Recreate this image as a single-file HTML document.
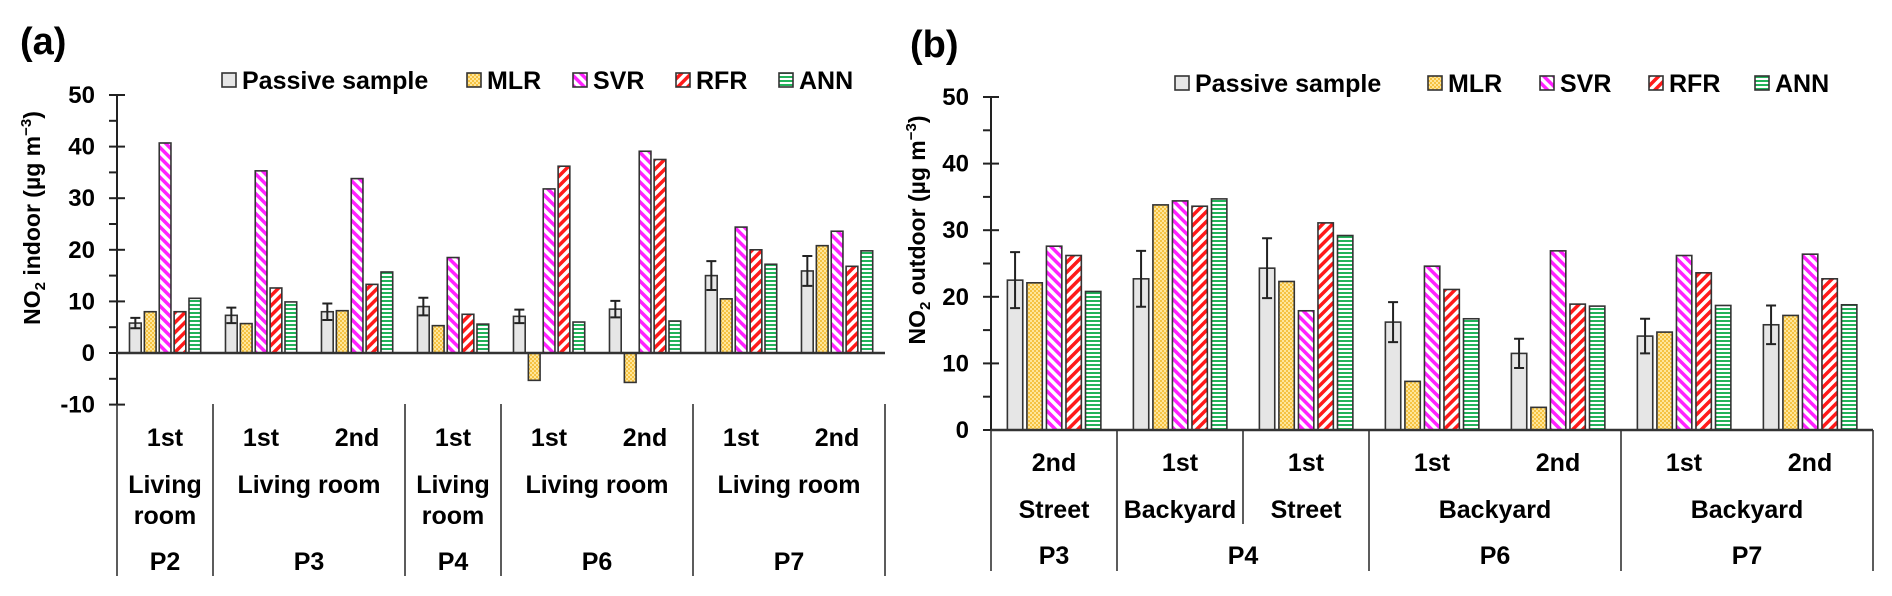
<!DOCTYPE html>
<html><head><meta charset="utf-8">
<style>
html,body{margin:0;padding:0;background:#fff;}
svg{display:block;font-family:"Liberation Sans",Arial,sans-serif;font-weight:bold;}
</style></head>
<body>
<svg id="chart" width="1892" height="596" viewBox="0 0 1892 596">
<defs>
<pattern id="pMLR" width="4" height="4" patternUnits="userSpaceOnUse"><rect width="4" height="4" fill="#ffe699"/><rect width="2" height="2" fill="#f5c242"/><rect x="2" y="2" width="2" height="2" fill="#f5c242"/></pattern>
<pattern id="pSVR" width="7" height="7" patternUnits="userSpaceOnUse" patternTransform="rotate(-45)"><rect width="7" height="7" fill="#fff"/><rect width="3.5" height="7" fill="#ff22ff"/></pattern>
<pattern id="pRFR" width="7" height="7" patternUnits="userSpaceOnUse" patternTransform="rotate(45)"><rect width="7" height="7" fill="#fff"/><rect width="3.5" height="7" fill="#ff1a1a"/></pattern>
<pattern id="pANN" width="4" height="4" patternUnits="userSpaceOnUse"><rect width="4" height="4" fill="#fff"/><rect width="4" height="2" fill="#22b35a"/></pattern>
</defs>
<text x="20" y="54" font-size="38">(a)</text>
<text x="910" y="57" font-size="38">(b)</text>
<text transform="translate(40,218) rotate(-90)" text-anchor="middle" font-size="23">NO<tspan font-size="15" dy="5">2</tspan><tspan dy="-5"> indoor (µg m</tspan><tspan font-size="15" dy="-9">−3</tspan><tspan dy="9">)</tspan></text>
<text transform="translate(925,230) rotate(-90)" text-anchor="middle" font-size="23">NO<tspan font-size="15" dy="5">2</tspan><tspan dy="-5"> outdoor (µg m</tspan><tspan font-size="15" dy="-9">−3</tspan><tspan dy="9">)</tspan></text>
</svg>
<script>
const series = ["Passive sample","MLR","SVR","RFR","ANN"];
const fills = ["#e6e6e6","url(#pMLR)","url(#pSVR)","url(#pRFR)","url(#pANN)"];
// Panel (a) indoor
const aPassive = [5.8,7.3,8.0,9.0,7.1,8.5,15.0,15.9];
const aPassiveErr = [1.0,1.5,1.6,1.7,1.3,1.6,2.8,2.9];
const aMLR = [8.0,5.7,8.2,5.3,-5.3,-5.7,10.5,20.8];
const aSVR = [40.7,35.3,33.8,18.5,31.8,39.1,24.4,23.6];
const aRFR = [8.0,12.6,13.3,7.5,36.2,37.5,20.0,16.8];
const aANN = [10.6,9.9,15.7,5.6,6.0,6.2,17.2,19.8];
const aFloor = ["1st","1st","2nd","1st","1st","2nd","1st","2nd"];
const aTicks = [-10,0,10,20,30,40,50];
// Panel (b) outdoor
const bPassive = [22.5,22.7,24.3,16.2,11.5,14.1,15.8];
const bPassiveErr = [4.2,4.2,4.5,3.0,2.2,2.6,2.9];
const bMLR = [22.1,33.8,22.3,7.3,3.4,14.7,17.2];
const bSVR = [27.6,34.4,17.9,24.6,26.9,26.2,26.4];
const bRFR = [26.2,33.6,31.1,21.1,18.9,23.6,22.7];
const bANN = [20.8,34.7,29.2,16.7,18.6,18.7,18.8];
const bFloor = ["2nd","1st","1st","1st","2nd","1st","2nd"];
const bTicks = [0,10,20,30,40,50];

const svg = document.getElementById('chart');
const NS = "http://www.w3.org/2000/svg";
function el(tag, attrs, parent){const e=document.createElementNS(NS,tag);for(const k in attrs)e.setAttribute(k,attrs[k]);(parent||svg).appendChild(e);return e;}
function txt(x,y,s,size,anchor){const t=el('text',{x:x,y:y,'font-size':size,'text-anchor':anchor||'middle'});t.textContent=s;return t;}

function panel(cfg){
  const {x0,cat,n,yZero,pxPer10,ymin,ymax,ticks,data,err,key} = cfg;
  const Y = v => yZero - v*pxPer10/10;
  const X = i => x0 + i*cat;
  const ax = el('line',{x1:x0,y1:Y(ymax),x2:x0,y2:Y(ymin),stroke:'#222','stroke-width':2});
  
  
  for(let v=ymin; v<=ymax; v+=5){
    const major = v%10===0;
    const tk = el('line',{x1:x0-8,y1:Y(v),x2:major?x0+8:x0,y2:Y(v),stroke:'#222','stroke-width':2});
    
    
  }
  ticks.forEach(v=>{
    const t = txt(x0-22, Y(v)+8, String(v), 24, 'end');
    
    
  });
  data.forEach((arr,s)=>{
    arr.forEach((v,i)=>{
      const bx = X(i) + cat*0.13 + s*cat*0.155;
      const bw = cat*0.122;
      const y1 = Math.min(Y(v),Y(0)), h = Math.abs(Y(v)-Y(0));
      const r = el('rect',{x:bx,y:y1,width:bw,height:h,fill:fills[s],stroke:'#333','stroke-width':1.6});
      
      
      if(s===0){
        const cx = bx+bw/2, e = err[i];
        const eb = el('path',{d:`M${cx},${Y(v+e)}V${Y(v-e)}M${cx-5},${Y(v+e)}H${cx+5}M${cx-5},${Y(v-e)}H${cx+5}`,stroke:'#222','stroke-width':2,fill:'none'});
        
        
      }
    });
  });
  const zl = el('line',{x1:x0,y1:Y(0),x2:X(n),y2:Y(0),stroke:'#333','stroke-width':2.5});
  
  
  return {X,Y};
}

// Panel a
const A = panel({x0:117,cat:96,n:8,yZero:353,pxPer10:51.6,ymin:-10,ymax:50,ticks:aTicks,
  data:[aPassive,aMLR,aSVR,aRFR,aANN],err:aPassiveErr,key:'panel-a'});
[0,1,3,4,6,8].forEach(i=>{
  const l = el('line',{x1:A.X(i),y1:404,x2:A.X(i),y2:576,stroke:'#333','stroke-width':1.6});
  
  
});
aFloor.forEach((f,i)=>{
  const t = txt(A.X(i)+48, 446, f, 25);
  
  
});
const aRoom = [[0.5,["Living","room"]],[2,["Living room"]],[3.5,["Living","room"]],[5,["Living room"]],[7,["Living room"]]];
aRoom.forEach(([c,lines])=>{
  lines.forEach((s,k)=>{
    const t = txt(A.X(c), 493+k*31, s, 25);
    
    
  });
});
const aHouse = [[0.5,"P2"],[2,"P3"],[3.5,"P4"],[5,"P6"],[7,"P7"]];
aHouse.forEach(([c,s])=>{
  const t = txt(A.X(c), 570, s, 25);
  
  
});

// Panel b
const B = panel({x0:991,cat:126,n:7,yZero:430,pxPer10:66.6,ymin:0,ymax:50,ticks:bTicks,
  data:[bPassive,bMLR,bSVR,bRFR,bANN],err:bPassiveErr,key:'panel-b'});
[0,1,3,5,7].forEach(i=>{
  const l = el('line',{x1:B.X(i),y1:430,x2:B.X(i),y2:571,stroke:'#333','stroke-width':1.6});
  
  
});
const sub = el('line',{x1:B.X(2),y1:430,x2:B.X(2),y2:524,stroke:'#333','stroke-width':1.6});


bFloor.forEach((f,i)=>{
  const t = txt(B.X(i)+63, 471, f, 25);
  
  
});
const bLoc = [[0.5,"Street"],[1.5,"Backyard"],[2.5,"Street"],[4,"Backyard"],[6,"Backyard"]];
bLoc.forEach(([c,s])=>{
  const t = txt(B.X(c), 518, s, 25);
  
  
});
const bHouse = [[0.5,"P3"],[2,"P4"],[4,"P6"],[6,"P7"]];
bHouse.forEach(([c,s])=>{
  const t = txt(B.X(c), 564, s, 25);
  
  
});

function legend(xs, yc, key){
  xs.forEach((x,s)=>{
    const g = el('g',{});
    
    
    el('rect',{x:x,y:yc-7,width:14,height:14,fill:fills[s],stroke:'#333','stroke-width':1.6},g);
    const t = el('text',{x:x+20,y:yc+9,'font-size':25},g);
    t.textContent = series[s];
  });
}
legend([222,467,573,676,779], 80, 'panel-a');
legend([1175,1428,1540,1649,1755], 83, 'panel-b');
</script>
</body></html>
